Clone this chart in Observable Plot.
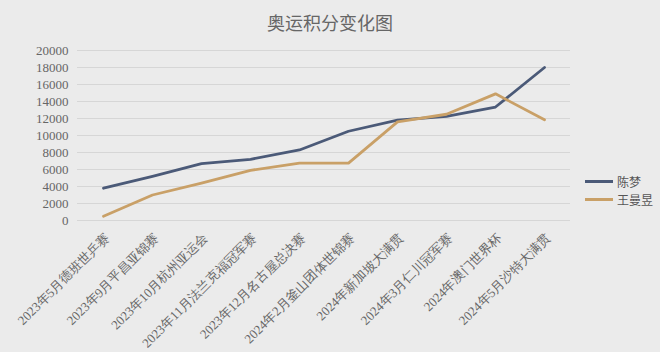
<!DOCTYPE html>
<html><head><meta charset="utf-8">
<script src="https://cdn.jsdelivr.net/npm/d3@7"></script>
<script src="https://cdn.jsdelivr.net/npm/@observablehq/plot@0.6"></script>
<style>
html,body{margin:0;padding:0;background:#ebebeb;}
#wrap{position:relative;width:660px;height:352px;background:#ebebeb;overflow:hidden;}
#title{height:40px;line-height:44px;text-align:center;font-family:"Noto Sans CJK SC",sans-serif;font-size:18px;color:#666;}
#legend{position:absolute;left:585px;top:172px;font-family:"Noto Sans CJK SC",sans-serif;font-size:12px;color:#555;}
.li{display:flex;align-items:center;height:18px;}
.sw{width:28px;height:3px;margin-right:4px;}
</style></head>
<body><div id="wrap"><div id="title">奥运积分变化图</div><div id="chart"></div><div id="legend"></div></div>
<script>
const events = ["2023年5月德班世乒赛","2023年9月平昌亚锦赛","2023年10月杭州亚运会","2023年11月法兰克福冠军赛","2023年12月名古屋总决赛","2024年2月釜山团体世锦赛","2024年新加坡大满贯","2024年3月仁川冠军赛","2024年澳门世界杯","2024年5月沙特大满贯"];
const chenMeng = [3800, 5200, 6700, 7200, 8300, 10500, 11800, 12250, 13350, 18000];
const wangManyu = [500, 3000, 4400, 5900, 6750, 6750, 11600, 12500, 14900, 11850];
const yTicks = [0,2000,4000,6000,8000,10000,12000,14000,16000,18000,20000];
const seriesNames = ["陈梦","王曼昱"];
const seriesColors = ["#4b5a78","#c9a067"];

const data = [];
events.forEach((e,i)=>{
  data.push({event:e, value:chenMeng[i], who:seriesNames[0]});
  data.push({event:e, value:wangManyu[i], who:seriesNames[1]});
});

const chart = Plot.plot({
  width:660, height:312,
  marginTop:10, marginBottom:132, marginLeft:77, marginRight:90,
  style:{background:"#ebebeb", fontFamily:"Times New Roman, Tinos, Liberation Serif, DejaVu Serif, serif"},
  x:{type:"point", domain:events, padding:0.5, label:null},
  y:{domain:[0,20000], label:null},
  color:{domain:seriesNames, range:seriesColors},
  marks:[
    Plot.ruleY(yTicks,{stroke:"#d6d6d6", strokeWidth:1}),
    Plot.axisY({ticks:yTicks, tickSize:0, tickPadding:9, fontSize:13, fill:"#666", label:null, tickFormat:d=>String(d)}),
    Plot.axisX({tickSize:0, tickPadding:15, dx:4, tickRotate:-45, fontSize:13, fill:"#666", label:null}),
    Plot.line(data,{x:"event", y:"value", z:"who", stroke:"who", strokeWidth:2.8, strokeLinejoin:"round"})
  ]
});
chart.querySelectorAll("text").forEach(t=>t.style.fontFamily="'Liberation Serif', 'Times New Roman', serif");
document.getElementById("chart").appendChild(chart);

const lg = document.getElementById("legend");
seriesNames.forEach((n,i)=>{
  const d = document.createElement("div"); d.className="li";
  d.innerHTML = `<div class="sw" style="background:${seriesColors[i]}"></div><span>${n}</span>`;
  lg.appendChild(d);
});
</script></body></html>
